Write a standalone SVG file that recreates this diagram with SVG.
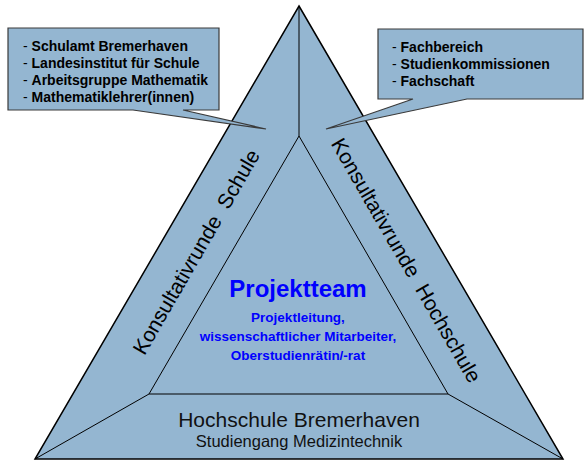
<svg xmlns="http://www.w3.org/2000/svg" width="587" height="462" viewBox="0 0 587 462">
<defs>
<style>
.fill{fill:#94B6D1}
.outer{stroke:#000;stroke-width:1.5;stroke-linejoin:miter}
.thin{stroke:#000;stroke-width:1;fill:none}
.callout{fill:#94B6D1;stroke:#3a3a3a;stroke-width:1.2;stroke-linejoin:miter}
.ct{font-family:"Liberation Sans",Arial,sans-serif;font-size:14px;fill:#000}
.b{font-weight:bold}
.side{font-family:"Liberation Sans",Arial,sans-serif;font-size:21px;fill:#000;text-anchor:middle;word-spacing:6px}
.team{font-family:"Liberation Sans",Arial,sans-serif;font-weight:bold;fill:#0000FF;text-anchor:middle}
.hs{font-family:"Liberation Sans",Arial,sans-serif;fill:#111;text-anchor:middle}
</style>
</defs>
<rect width="587" height="462" fill="#fff"/>
<g id="triangle-frame">
<polygon class="fill outer" points="299,6 563,459 35,459"/>
</g>
<g id="connectors">
<line class="thin" x1="299" y1="6" x2="299" y2="136"/>
<line class="thin" x1="149" y1="394" x2="35" y2="459"/>
<line class="thin" x1="448" y1="394" x2="563" y2="459"/>
</g>
<g id="projektteam">
<polygon class="thin" points="299,136 448,394 149,394"/>
<text class="team" x="298" y="297" font-size="24">Projektteam</text>
<text class="team" x="298" y="322" font-size="13.5">Projektleitung,</text>
<text class="team" x="298" y="341" font-size="13.5">wissenschaftlicher Mitarbeiter,</text>
<text class="team" x="298" y="360" font-size="13.5">Oberstudienrätin/-rat</text>
</g>
<g id="konsultativrunde-schule">
<text class="side" transform="translate(202.5,255.5) rotate(-60)">Konsultativrunde Schule</text>
</g>
<g id="konsultativrunde-hochschule">
<text class="side" transform="translate(400,264) rotate(60)">Konsultativrunde Hochschule</text>
</g>
<g id="hochschule-bremerhaven">
<text class="hs" x="299" y="427" font-size="21">Hochschule Bremerhaven</text>
<text class="hs" x="299" y="447" font-size="16.5">Studiengang Medizintechnik</text>
</g>
<g id="callout-schule">
<path class="callout" d="M8,28 H219 V110 H183 L266,129 L133,110 H8 Z"/>
<text class="ct" x="23" y="51">- <tspan class="b">Schulamt Bremerhaven</tspan></text>
<text class="ct" x="23" y="68">- <tspan class="b">Landesinstitut für Schule</tspan></text>
<text class="ct" x="23" y="85">- <tspan class="b">Arbeitsgruppe Mathematik</tspan></text>
<text class="ct" x="23" y="102">- <tspan class="b">Mathematiklehrer(innen)</tspan></text>
</g>
<g id="callout-hochschule">
<path class="callout" d="M378,29 H583 V99 H467 L326,129 L413,99 H378 Z"/>
<text class="ct" x="392" y="52">- <tspan class="b">Fachbereich</tspan></text>
<text class="ct" x="392" y="69">- <tspan class="b">Studienkommissionen</tspan></text>
<text class="ct" x="392" y="86">- <tspan class="b">Fachschaft</tspan></text>
</g>
</svg>
